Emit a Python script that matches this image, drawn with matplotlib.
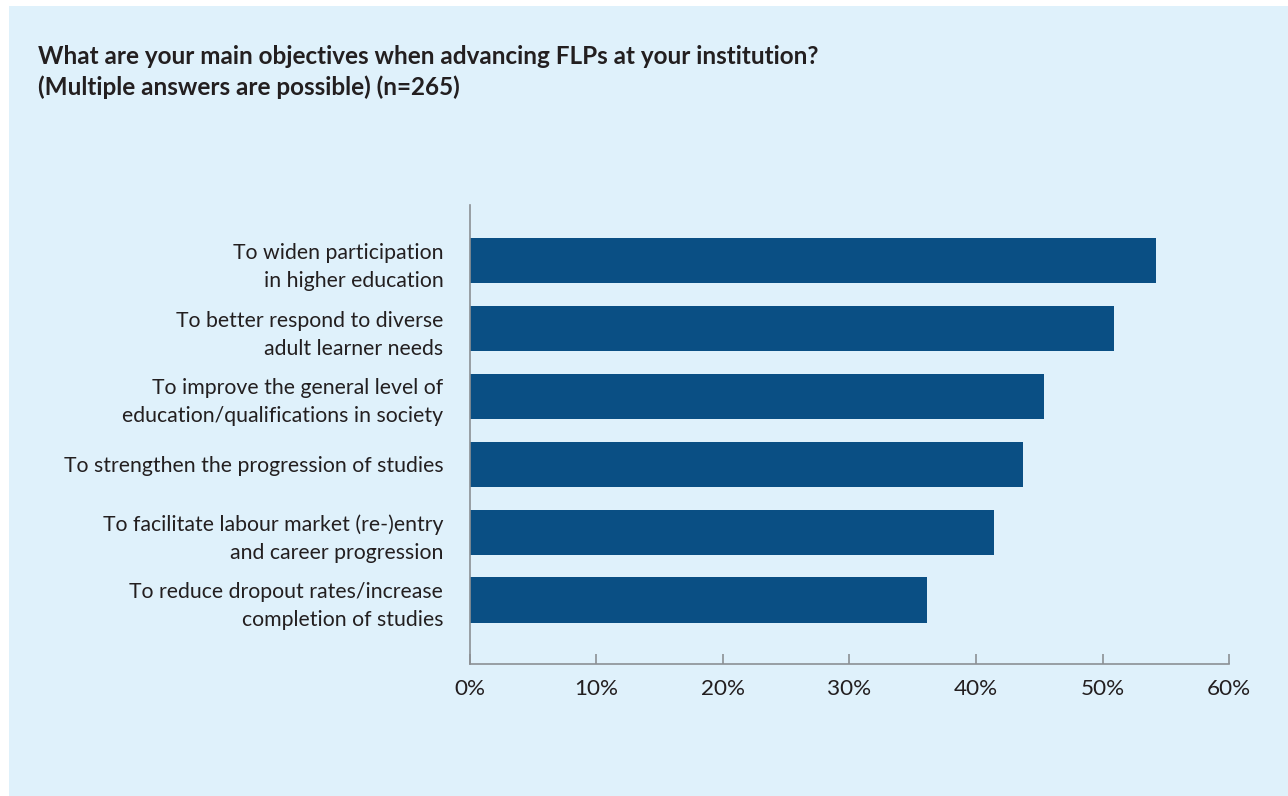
import matplotlib.pyplot as plt
import matplotlib.patches as patches

plt.rcParams['font.family'] = ['Lato', 'DejaVu Sans']

# Survey results (share of respondents, %)
objectives = [
    "To widen participation\nin higher education",
    "To better respond to diverse\nadult learner needs",
    "To improve the general level of\neducation/qualifications in society",
    "To strengthen the progression of studies",
    "To facilitate labour market (re-)entry\nand career progression",
    "To reduce dropout rates/increase\ncompletion of studies",
]
shares = [54.2, 50.9, 45.4, 43.7, 41.4, 36.1]
x_ticks = [0, 10, 20, 30, 40, 50, 60]
x_tick_labels = ["0%", "10%", "20%", "30%", "40%", "50%", "60%"]

bg = '#dff1fb'
bar_color = '#0a4f84'
axis_color = '#8c9094'
text_color = '#231f20'

fig = plt.figure(figsize=(12.88, 7.96), dpi=100, facecolor='white')

# light blue panel behind everything
panel = patches.Rectangle((9 / 1288, 0), 1 - 9 / 1288, 790 / 796,
                          transform=fig.transFigure, facecolor=bg,
                          edgecolor='none', zorder=-10)
fig.patches.append(panel)

fig.text(38 / 1288, 1 - 57 / 796,
         "What are your main objectives when advancing FLPs at your institution?",
         fontsize=17.5, fontweight='bold', color=text_color, va='center', ha='left')
fig.text(38 / 1288, 1 - 87 / 796,
         "(Multiple answers are possible) (n=265)",
         fontsize=17.5, fontweight='bold', color=text_color, va='center', ha='left')

ax = fig.add_axes([469.7 / 1288, 1 - 664 / 796, (1229.3 - 469.7) / 1288, (664 - 205) / 796])
ax.set_facecolor('none')
ax.set_zorder(1)

y_pos = list(range(len(objectives)))
ax.barh(y_pos, shares, height=0.67, color=bar_color, zorder=2)

ax.set_xlim(0, 60)
ax.set_ylim(5.94, -0.82)

for side in ['top', 'right']:
    ax.spines[side].set_visible(False)
for side in ['left', 'bottom']:
    ax.spines[side].set_color(axis_color)
    ax.spines[side].set_linewidth(1.2)

ax.set_xticks(x_ticks)
ax.set_xticklabels(x_tick_labels, fontsize=16.2, color=text_color)
ax.tick_params(axis='x', direction='in', length=7, width=1.2, color=axis_color, pad=11)

ax.set_yticks(y_pos)
ax.set_yticklabels(objectives, fontsize=15.3, color=text_color, linespacing=1.5)
ax.tick_params(axis='y', length=0, pad=19)

fig.savefig('out.png', dpi=100, facecolor=fig.get_facecolor())
